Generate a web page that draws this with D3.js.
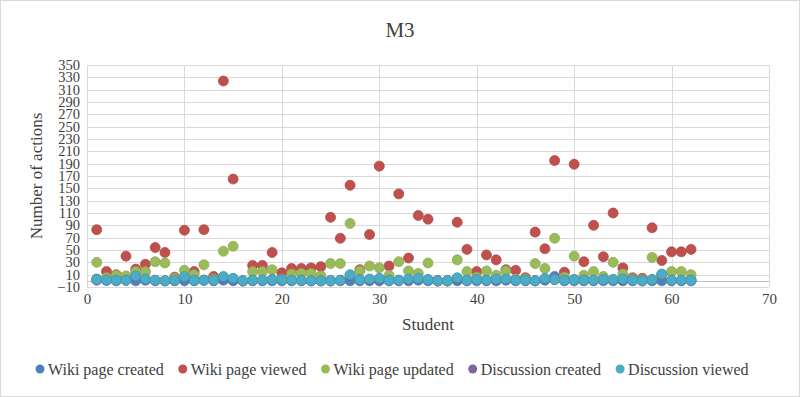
<!DOCTYPE html>
<meta charset="utf-8">
<style>
body{
  margin: 0;
  background: white;
  font-family: "Liberation Serif", "Times New Roman", serif;
}
svg text{
  fill: #404040;
}
</style>
<svg id="chart" width="800" height="397"></svg>
<script src="https://d3js.org/d3.v7.min.js"></script>
<script>

// students 1..62
var students = d3.range(1, 63)

var wikiCreated = [3,1,0,1,0,1,0,0,0,0, 0,1,0,1,0,0,0,0,0,0, 0,0,0,0,0,0,0,0,0,0,
  0,0,0,1,0,0,0,0,0,0, 0,0,1,0,0,0,1,7,0,0, 0,0,0,0,0,0,0,0,0,0, 0,0]
var wikiViewed = [83,15,10,40,19,27,54,46,6,82, 15,83,7,324,165,0,25,25,46,13,
  20,20,21,23,103,69,155,18,75,186, 24,141,37,106,100,0,0,95,51,15,
  42,34,18,17,5,79,52,195,14,189, 31,90,39,110,21,5,4,86,33,47, 47,51]
var wikiUpdated = [30,5,9,8,15,15,31,29,4,17, 10,26,3,48,56,0,15,15,18,3,
  11,12,12,8,28,28,93,16,24,21, 9,31,16,12,29,0,0,34,15,6,
  16,9,16,3,3,28,20,69,6,40, 9,15,7,30,11,3,2,38,10,15, 15,10]
var discCreated = [1,1,1,1,7,2,1,0,1,6, 1,1,1,6,3,0,1,1,2,2,
  1,1,0,0,0,1,9,2,2,3, 1,1,2,3,2,0,0,4,1,2,
  1,2,2,1,1,0,3,2,1,2, 1,1,2,2,2,1,0,2,10,1, 1,1]
var discViewed = [2,1,1,1,8,3,1,0,1,7, 1,1,1,7,4,0,1,1,2,2,
  1,1,0,0,0,1,10,2,3,4, 1,1,3,4,2,0,0,5,1,2,
  1,3,3,1,1,0,4,2,1,2, 1,1,2,2,3,1,0,2,11,1, 1,1]

var seriesNames = ['Wiki page created', 'Wiki page viewed', 'Wiki page updated', 'Discussion created', 'Discussion viewed']
var seriesColors = ['#4f81bd', '#c0504d', '#9bbb59', '#8064a2', '#4bacc6']
var seriesValues = [wikiCreated, wikiViewed, wikiUpdated, discCreated, discViewed]

var xTicks = d3.range(0, 71, 10)
var yTicks = d3.range(-10, 351, 20)

var svg = d3.select('#chart')

svg.append('rect')
    .attr('x', 0.5).attr('y', 0.5)
    .attr('width', 799).attr('height', 396)
    .style('fill', 'white').style('stroke', '#d9d9d9')

var x = d3.scaleLinear().domain([0, 70]).range([87, 769])
var y = d3.scaleLinear().domain([-10, 350]).range([287, 65])

// grid
svg.append('g').selectAll('line.h')
    .data(yTicks)
  .enter().append('line')
    .attr('x1', x(0)).attr('x2', x(70))
    .attr('y1', function(d){ return Math.round(y(d)) + 0.5 })
    .attr('y2', function(d){ return Math.round(y(d)) + 0.5 })
    .style('stroke', '#d9d9d9')

svg.append('g').selectAll('line.v')
    .data(xTicks)
  .enter().append('line')
    .attr('y1', y(350)).attr('y2', y(-10))
    .attr('x1', function(d){ return Math.round(x(d)) + 0.5 })
    .attr('x2', function(d){ return Math.round(x(d)) + 0.5 })
    .style('stroke', '#d9d9d9')

// zero line
svg.append('line')
    .attr('x1', x(0)).attr('x2', x(70))
    .attr('y1', Math.round(y(0)) + 0.5).attr('y2', Math.round(y(0)) + 0.5)
    .style('stroke', '#bfbfbf')

// axes labels
var yAxis = d3.axisLeft(y).tickValues(yTicks).tickSize(0).tickPadding(7)
var gy = svg.append('g').attr('transform', 'translate(' + x(0) + ',0)').call(yAxis)
gy.select('.domain').remove()
gy.selectAll('text').style('font-size', '14.5px').style('font-family', '"Liberation Serif", serif').style('fill', '#404040')

var xAxis = d3.axisBottom(x).tickValues(xTicks).tickSize(0).tickPadding(6)
var gx = svg.append('g').attr('transform', 'translate(0,' + y(-10) + ')').call(xAxis)
gx.select('.domain').remove()
gx.selectAll('text').style('font-size', '15px').style('font-family', '"Liberation Serif", serif').style('fill', '#404040')

// points
seriesValues.forEach(function(vals, i){
  svg.append('g').selectAll('circle')
      .data(vals)
    .enter().append('circle')
      .attr('cx', function(d, j){ return x(students[j]) })
      .attr('cy', function(d){ return y(d) })
      .attr('r', 5)
      .style('fill', seriesColors[i])
      .style('stroke', d3.color(seriesColors[i]).darker(0.3))
      .style('stroke-width', 0.75)
})

// titles
svg.append('text')
    .attr('x', 400).attr('y', 37)
    .attr('text-anchor', 'middle')
    .style('font-size', '21px')
    .text('M3')

svg.append('text')
    .attr('transform', 'translate(42,176) rotate(-90)')
    .attr('text-anchor', 'middle')
    .style('font-size', '17px')
    .text('Number of actions')

svg.append('text')
    .attr('x', 428).attr('y', 330)
    .attr('text-anchor', 'middle')
    .style('font-size', '17px')
    .text('Student')

// legend
var legend = svg.append('g')
var lx = 35
seriesNames.forEach(function(name, i){
  legend.append('circle')
      .attr('cx', lx + 5).attr('cy', 369)
      .attr('r', 4.5)
      .style('fill', seriesColors[i])
  var t = legend.append('text')
      .attr('x', lx + 13).attr('y', 374.5)
      .style('font-size', '16px')
      .text(name)
  lx += 13 + t.node().getComputedTextLength() + 14
})

</script>
